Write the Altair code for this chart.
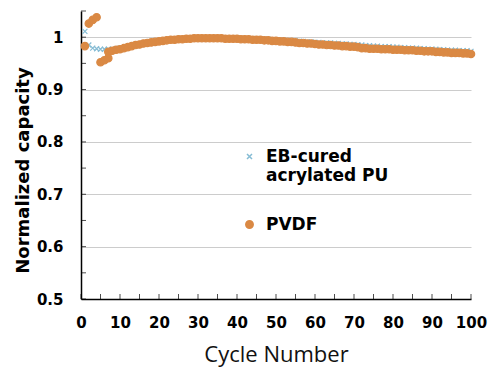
import altair as alt
import pandas as pd

series_names = ["EB-cured acrylated PU", "PVDF"]

eb_cycles = list(range(1, 101))
eb_values = [
    1.011, 0.985, 0.979, 0.978, 0.977, 0.977, 0.977, 0.977, 0.978, 0.979,
    0.980, 0.982, 0.984, 0.985, 0.987, 0.988, 0.989, 0.991, 0.992, 0.993,
    0.994, 0.995, 0.995, 0.996, 0.997, 0.997, 0.998, 0.998, 0.999, 0.999,
    0.999, 0.999, 0.999, 0.999, 0.999, 0.999, 0.998, 0.998, 0.998, 0.998,
    0.998, 0.997, 0.997, 0.997, 0.997, 0.996, 0.996, 0.996, 0.995, 0.995,
    0.995, 0.994, 0.994, 0.993, 0.993, 0.992, 0.992, 0.991, 0.991, 0.990,
    0.990, 0.989, 0.989, 0.989, 0.988, 0.988, 0.987, 0.987, 0.986, 0.986,
    0.985, 0.985, 0.984, 0.984, 0.983, 0.983, 0.982, 0.982, 0.982, 0.981,
    0.981, 0.980, 0.980, 0.979, 0.979, 0.979, 0.978, 0.978, 0.977, 0.977,
    0.977, 0.976, 0.976, 0.975, 0.975, 0.975, 0.974, 0.974, 0.974, 0.973,
]

pvdf_cycles = [1, 2, 3, 4, 5, 6, 7] + list(range(7, 101))
pvdf_values = [
    0.983, 1.026, 1.033, 1.038, 0.952, 0.956, 0.960,
    0.972, 0.974, 0.976, 0.977,
    0.979, 0.981, 0.983, 0.985, 0.986, 0.988, 0.989, 0.990, 0.991, 0.992,
    0.993, 0.994, 0.995, 0.995, 0.996, 0.996, 0.997, 0.997, 0.998, 0.998,
    0.998, 0.998, 0.998, 0.998, 0.998, 0.998, 0.997, 0.997, 0.997, 0.997,
    0.996, 0.996, 0.996, 0.995, 0.995, 0.995, 0.994, 0.994, 0.993, 0.993,
    0.992, 0.992, 0.991, 0.991, 0.990, 0.989, 0.989, 0.988, 0.988, 0.987,
    0.986, 0.986, 0.985, 0.985, 0.984, 0.984, 0.983, 0.983, 0.982, 0.982,
    0.981, 0.979, 0.979, 0.978, 0.978, 0.978, 0.977, 0.977, 0.977, 0.976,
    0.976, 0.976, 0.975, 0.975, 0.975, 0.974, 0.974, 0.973, 0.973, 0.973,
    0.972, 0.972, 0.971, 0.971, 0.970, 0.970, 0.970, 0.969, 0.969, 0.968,
]

x_tick_labels = list(range(0, 101, 10))
x_minor_ticks = list(range(0, 101, 5))
y_tick_labels = [0.5, 0.6, 0.7, 0.8, 0.9, 1.0]
y_minor_ticks = [0.5, 0.55, 0.6, 0.65, 0.7, 0.75, 0.8, 0.85, 0.9, 0.95, 1.0, 1.05]

df = pd.concat([
    pd.DataFrame({"cycle": eb_cycles, "value": eb_values, "series": series_names[0]}),
    pd.DataFrame({"cycle": pvdf_cycles, "value": pvdf_values, "series": series_names[1]}),
], ignore_index=True)

W, H = 390, 288
BLUE = "#86BCD4"
ORANGE = "#DA8944"
X_PATH = "M-1,-1L1,1M-1,1L1,-1"

xscale = alt.Scale(domain=[0, 100], nice=False, zero=False)
yscale = alt.Scale(domain=[0.5, 1.05], nice=False, zero=False)

x_axis = alt.Axis(values=x_tick_labels, title="Cycle Number", grid=False, ticks=False,
                  tickSize=0, labelPadding=16, labelOverlap=False, labelFlush=False,
                  labelFont="DejaVu Sans", labelFontSize=15, labelFontWeight="bold",
                  labelColor="black", domainColor="black", domainWidth=1.5,
                  titleFont="Open Sans", titleFontSize=22, titleFontWeight="normal",
                  titleColor="#111", titleBaseline="alphabetic", titleY=62, titleX=W / 2,
                  titleAlign="center")
y_axis = alt.Axis(values=y_tick_labels, format="~g", title="Normalized capacity",
                  grid=True, gridColor="#cccccc", gridWidth=1, ticks=False, tickSize=0,
                  labelPadding=18, labelOverlap=False, labelFlush=False,
                  labelFont="DejaVu Sans", labelFontSize=15, labelFontWeight="bold",
                  labelColor="black", domainColor="black", domainWidth=1.5,
                  titleFont="DejaVu Sans", titleFontSize=18, titleFontWeight="bold",
                  titleColor="black", titleBaseline="alphabetic", titleX=-53, titleY=159,
                  titleAngle=-90, titleAlign="center")

leg = alt.Legend(
    orient="none", legendX=160, legendY=137, title=None,
    labelFont="DejaVu Sans", labelFontSize=17, labelFontWeight="bold",
    labelColor="black", labelOffset=8, labelLimit=0, rowPadding=31,
    labelExpr="datum.label == 'EB-cured acrylated PU' ? ['EB-cured', 'acrylated PU'] : datum.label",
)

points = alt.Chart(df).mark_point(filled=True, strokeWidth=1.2, opacity=1).encode(
    x=alt.X("cycle:Q", scale=xscale, axis=x_axis),
    y=alt.Y("value:Q", scale=yscale, axis=y_axis),
    fill=alt.Fill("series:N", scale=alt.Scale(domain=series_names, range=[BLUE, ORANGE]), legend=leg),
    stroke=alt.Stroke("series:N", scale=alt.Scale(domain=series_names, range=[BLUE, ORANGE]), legend=leg),
    shape=alt.Shape("series:N", scale=alt.Scale(domain=series_names, range=[X_PATH, "circle"]), legend=leg),
    size=alt.Size("series:N", scale=alt.Scale(domain=series_names, range=[25, 55]), legend=leg),
)

xt = alt.Chart(pd.DataFrame({"t": x_minor_ticks})).mark_tick(
    color="black", size=5, thickness=1
).encode(x=alt.X("t:Q", scale=xscale, axis=x_axis), y=alt.value(H - 2.5))

yt = alt.Chart(pd.DataFrame({"t": y_minor_ticks})).mark_tick(
    color="black", size=5, thickness=1
).encode(y=alt.Y("t:Q", scale=yscale, axis=y_axis), x=alt.value(2.5))

chart = alt.layer(points, xt, yt).properties(
    width=W, height=H,
    padding={"left": 81, "top": 11, "right": 17, "bottom": 68},
    autosize=alt.AutoSizeParams(type="none"),
    background="white",
).configure_view(stroke=None)

chart.save("out.html", embed_options={"renderer": "svg", "actions": False})
